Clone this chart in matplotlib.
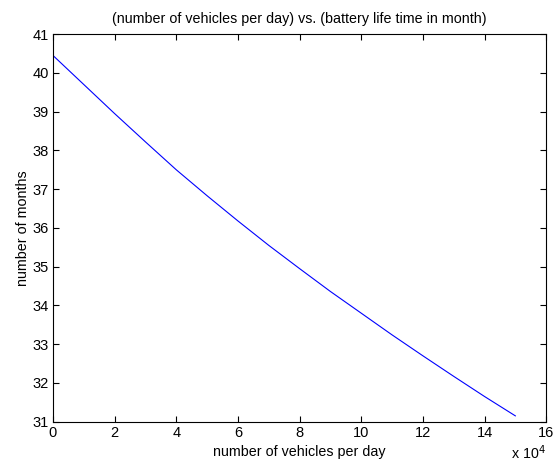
import matplotlib
matplotlib.use("Agg")
import matplotlib.pyplot as plt
from matplotlib.ticker import MultipleLocator, FuncFormatter

plt.rcParams['font.family'] = ['Liberation Sans', 'DejaVu Sans']

# vehicles per day vs battery life (months)
vehicles = [0, 10000, 20000, 30000, 40000, 50000, 60000, 70000,
            80000, 90000, 100000, 110000, 120000, 130000, 140000, 150000]
months = [40.45, 39.7, 38.95, 38.22, 37.5, 36.83, 36.18, 35.55,
          34.95, 34.36, 33.8, 33.24, 32.7, 32.17, 31.65, 31.15]

fig = plt.figure(figsize=(5.56, 4.68), dpi=100)
ax = fig.add_axes([0.0953, 0.099, 0.887, 0.828])

ax.plot(vehicles, months, color='#0000ff', linewidth=0.8)

ax.set_xlim(0, 160000)
ax.set_ylim(31, 41)
ax.xaxis.set_major_locator(MultipleLocator(20000))
ax.yaxis.set_major_locator(MultipleLocator(1))
ax.xaxis.set_major_formatter(FuncFormatter(lambda v, p: "%g" % (v / 1e4)))
ax.tick_params(direction='in', top=True, right=True, length=4, width=0.8,
               labelsize=10.5, pad=3)
for s in ax.spines.values():
    s.set_linewidth(0.8)

ax.set_title("(number of vehicles per day) vs. (battery life time in month)",
             fontsize=10.3, pad=8)
ax.set_xlabel("number of vehicles per day", fontsize=10.3, labelpad=4)
ax.set_ylabel("number of months", fontsize=10.3, labelpad=2)
ax.text(0.999, -0.055, r"x 10$^{4}$", transform=ax.transAxes,
        ha='right', va='top', fontsize=10.3)

fig.savefig("out.png", dpi=100)
